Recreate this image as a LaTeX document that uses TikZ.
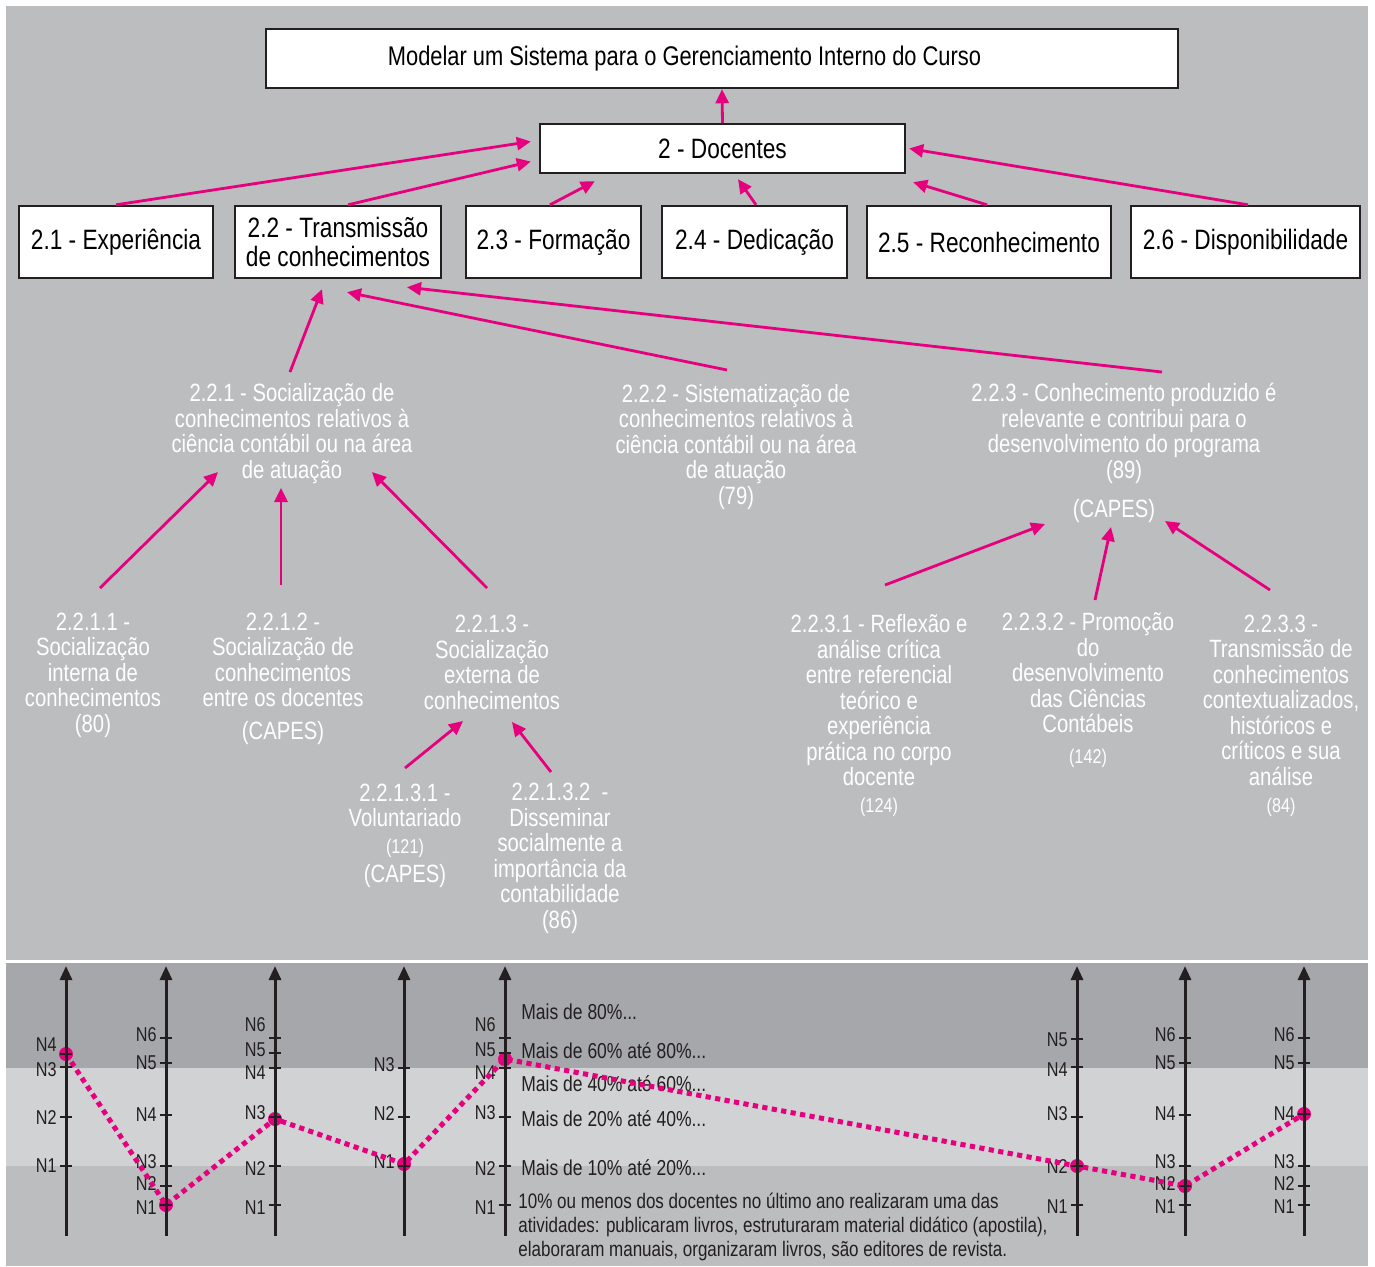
\documentclass[tikz,border=0pt]{standalone}
\usepackage{fontspec}
\setmainfont{Liberation Sans}[FakeStretch=0.81]
\usepackage{tikz}
\usetikzlibrary{ arrows.meta }
\usetikzlibrary{calc}

\definecolor{rosa}{RGB}{230,0,126}
\definecolor{fundo}{RGB}{188,189,191}
\definecolor{faixaesc}{RGB}{166,167,170}
\definecolor{faixaclara}{RGB}{209,210,212}
\definecolor{tinta}{RGB}{35,31,32}

\begin{document}
\begin{tikzpicture}[x=0.5pt,y=-0.5pt,
        caixa/.style={draw=tinta,line width=1.2pt,fill=white,inner sep=0pt,minimum height=36pt,align=center,font=\fontsize{14}{14.5}\selectfont},
        rotulo/.style={text=white,inner sep=0pt,align=center,font=\fontsize{12.5}{12.75}\selectfont},
        seta/.style={draw=rosa,line width=1.4pt,-{Triangle[length=7pt,width=6.5pt]}},
        eixo/.style={draw=tinta,line width=1.5pt,-{Triangle[length=7pt,width=6pt]}},
        nivel/.style={text=tinta,inner sep=0pt,anchor=east,font=\fontsize{10}{10}\selectfont},
        legenda/.style={text=tinta,inner sep=0pt,anchor=west,align=left,font=\fontsize{10.8}{12}\selectfont}]
    \useasboundingbox (0,0) rectangle (1375,1266);
    \fill[white] (0,0) rectangle (1375,1266);
    \fill[fundo] (6,6) rectangle (1368,960);
    \fill[faixaesc] (6,963) rectangle (1368,1068);
    \fill[faixaclara] (6,1068) rectangle (1368,1166);
    \fill[fundo] (6,1166) rectangle (1368,1266);

    \node[caixa,minimum width=456pt,minimum height=29.5pt,font=\fontsize{13.5}{14}\selectfont] (objetivo) at (722,58.5) {Modelar um Sistema para o Gerenciamento Interno do Curso\hspace*{37.5pt}};
    \node[caixa,minimum width=182.5pt,minimum height=24.5pt] (docentes) at (722.5,148.5) {2 - Docentes};
    \node[caixa,minimum width=97pt] (exp) at (116,242) {2.1 - Experiência};
    \node[caixa,minimum width=103pt] (trans) at (338,242) {2.2 - Transmissão\\de conhecimentos};
    \node[caixa,minimum width=87.5pt] (form) at (553.5,242) {2.3 - Formação};
    \node[caixa,minimum width=92.5pt] (dedic) at (754.5,242) {2.4 - Dedicação};
    \node[caixa,minimum width=122pt] (recon) at (989,242) {2.5 - Reconhecimento};
    \node[caixa,minimum width=114.5pt] (dispo) at (1245.5,242) {2.6 - Disponibilidade};

    \draw[seta] (docentes.north) -- (objetivo.south);
    \draw[seta] (exp.north) -- ([shift={(-8,-7)}]docentes.west);
    \draw[seta] ([shift={(10,0)}]trans.north) -- ([shift={(-8,13)}]docentes.west);
    \draw[seta] ([shift={(-3.5,0)}]form.north) -- ([shift={(56,7)}]docentes.south west);
    \draw[seta] ([shift={(1.5,0)}]dedic.north) -- ([shift={(15.5,5)}]docentes.south);
    \draw[seta] ([shift={(-2,0)}]recon.north) -- ([shift={(7,8)}]docentes.south east);
    \draw[seta] ([shift={(2.5,0)}]dispo.north) -- ([shift={(3,0)}]docentes.east);

    \node[rotulo] (soc) at (292,433.5) {2.2.1 - Socialização de\\conhecimentos relativos à\\ciência contábil ou na área\\de atuação};
    \node[rotulo] (sist) at (736,447) {2.2.2 - Sistematização de\\conhecimentos relativos à\\ciência contábil ou na área\\de atuação\\(79)};
    \node[rotulo] (conhec) at (1124,433.5) {2.2.3 - Conhecimento produzido é\\relevante e contribui para o\\desenvolvimento do programa\\(89)};
    \node[rotulo] (capes) at (1114,511) {(CAPES)};

    \draw[seta] ([shift={(-2,-61.5)}]soc.center) -- ([shift={(-16,10)}]trans.south);
    \draw[seta] ([shift={(-9,-77)}]sist.center) -- ([shift={(9,13)}]trans.south);
    \draw[seta] ([shift={(38,-61.5)}]conhec.center) -- ([shift={(69,8)}]trans.south);

    \node[rotulo] (socint) at (93,675) {2.2.1.1 -\\Socialização\\interna de\\conhecimentos\\(80)};
    \node[rotulo] (socdoc) at (283,679) {2.2.1.2 -\\Socialização de\\conhecimentos\\entre os docentes\\[3.75pt](CAPES)};
    \node[rotulo] (socext) at (492,662.5) {2.2.1.3 -\\Socialização\\externa de\\conhecimentos};
    \node[rotulo] (volunt) at (405,836) {2.2.1.3.1 -\\Voluntariado\\[0.5pt]{\fontsize{10}{10}\selectfont(121)}\\[2pt](CAPES)};
    \node[rotulo] (dissem) at (560,858.5) {2.2.1.3.2\ \ -\\Disseminar\\socialmente a\\importância da\\contabilidade\\(86)};

    \draw[seta] ([shift={(7,-87)}]socint.center) -- ([shift={(-74,38.5)}]soc.center);
    \draw[seta] ([shift={(-2,-94)}]socdoc.center) -- ([shift={(-11,54.5)}]soc.center);
    \draw[seta] ([shift={(-5,-74.5)}]socext.center) -- ([shift={(80,38.5)}]soc.center);
    \draw[seta] ([shift={(0,-68)}]volunt.center) -- ([shift={(-29,58.5)}]socext.center);
    \draw[seta] ([shift={(-9,-86.5)}]dissem.center) -- ([shift={(20,59.5)}]socext.center);

    \node[rotulo] (reflex) at (879,715.5) {2.2.3.1 - Reflexão e\\análise crítica\\entre referencial\\teórico e\\experiência\\prática no corpo\\docente\\[0.75pt]{\fontsize{10}{10}\selectfont(124)}};
    \node[rotulo] (promo) at (1088,690.5) {2.2.3.2 - Promoção\\do\\desenvolvimento\\das Ciências\\Contábeis\\[2.7pt]{\fontsize{10}{10}\selectfont(142)}};
    \node[rotulo] (contex) at (1281,715.5) {2.2.3.3 -\\Transmissão de\\conhecimentos\\contextualizados,\\históricos e\\críticos e sua\\análise\\[0.75pt]{\fontsize{10}{10}\selectfont(84)}};

    \draw[seta] ([shift={(6,-130.5)}]reflex.center) -- ([shift={(-69,13)}]capes.center);
    \draw[seta] ([shift={(7,-90.5)}]promo.center) -- ([shift={(-3,16)}]capes.center);
    \draw[seta] ([shift={(-11,-125.5)}]contex.center) -- ([shift={(51,10)}]capes.center);

    \node[legenda] (n6) at (521,1012) {Mais de 80\%...};
    \node[legenda] (n5) at (521,1051) {Mais de 60\% até 80\%...};
    \node[legenda] (n4) at (521,1084) {Mais de 40\% até 60\%...};
    \node[legenda] (n3) at (521,1119) {Mais de 20\% até 40\%...};
    \node[legenda] (n2) at (521,1168) {Mais de 10\% até 20\%...};
    \node[legenda,font=\fontsize{10.5}{12}\selectfont] (n1) at (518,1226.5) {10\% ou menos dos docentes no último ano realizaram uma das\\atividades: publicaram livros, estruturaram material didático (apostila),\\elaboraram manuais, organizaram livros, são editores de revista.};

    \foreach \x/\marcas in {
            66/{1054/N4/1045,1067/N3/1070,1117/N2/1117,1166/N1/1166},
            166/{1038/N6/1035,1063/N5/1063,1115/N4/1115,1166/N3/1162,1186/N2/1183,1205/N1/1208},
            275/{1038/N6/1025,1053/N5/1050,1068/N4/1073,1117/N3/1113,1166/N2/1168,1205/N1/1208},
            404/{1068/N3/1065,1117/N2/1113,1166/N1/1162},
            505/{1038/N6/1025,1053/N5/1050,1068/N4/1073,1117/N3/1113,1166/N2/1168,1205/N1/1208},
            1077/{1039/N5/1040,1067/N4/1070,1117/N3/1114,1166/N2/1166,1205/N1/1207},
            1185/{1038/N6/1035,1063/N5/1063,1115/N4/1114,1166/N3/1162,1186/N2/1183,1205/N1/1207},
            1304/{1038/N6/1035,1063/N5/1063,1114/N4/1114,1166/N3/1162,1186/N2/1183,1205/N1/1207}}
        \foreach \t/\n/\l in \marcas
            \node[nivel] at (\x-9,\l) {\n};

    \draw[rosa,line width=2.5pt,dash pattern=on 2.6pt off 2.2pt] (66,1054) -- (166,1205) -- (275,1119) -- (404,1164) -- (505,1059) -- (1077,1166) -- (1185,1186) -- (1304,1114);
    \foreach \x/\y in {66/1054,166/1205,275/1119,404/1164,505/1059,1077/1166,1185/1186,1304/1114}
        \fill[rosa] (\x,\y) circle (7);

    \foreach \x/\marcas in {
            66/{1054,1067,1117,1166},
            166/{1038,1063,1115,1166,1186,1205},
            275/{1038,1053,1068,1117,1166,1205},
            404/{1068,1117,1166},
            505/{1038,1053,1068,1117,1166,1205},
            1077/{1039,1067,1117,1166,1205},
            1185/{1038,1063,1115,1166,1186,1205},
            1304/{1038,1063,1114,1166,1186,1205}}
    {
        \draw[eixo] (\x,1236) -- (\x,966);
        \foreach \t in \marcas
            \draw[tinta,line width=1pt] (\x-6,\t) -- (\x+6,\t);
    }
\end{tikzpicture}
\end{document}
